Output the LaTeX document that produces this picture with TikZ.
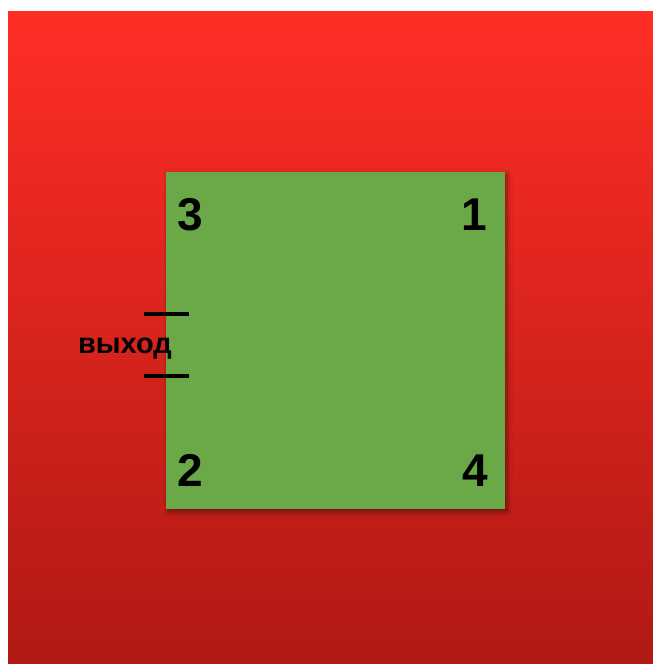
\documentclass[tikz,border=0pt]{standalone}
\usepackage{fontspec}
\setmainfont{Liberation Sans}
\usetikzlibrary{shadows.blur}
\definecolor{redtop}{HTML}{FF2E25}
\definecolor{redbot}{HTML}{B01915}
\definecolor{grass}{HTML}{6BA948}
\tikzset{
  corner/.style={font=\fontsize{46}{46}\selectfont\bfseries, text=black, inner sep=0pt},
  exitlabel/.style={font=\fontsize{29}{29}\selectfont\bfseries, text=black, inner sep=0pt},
  doorline/.style={line width=4pt, black},
}
\begin{document}
\begin{tikzpicture}[x=1pt,y=1pt]
\useasboundingbox (0,0) rectangle (653,664);
\fill[white] (0,0) rectangle (653,664);
\shade[top color=redtop, bottom color=redbot] (8,0) rectangle (653,652);
\node[fill=grass, minimum width=339pt, minimum height=337pt, inner sep=0pt,
  blur shadow={shadow xshift=2pt, shadow yshift=-3pt, shadow blur radius=5pt, shadow blur steps=8, shadow opacity=45}]
  (field) at (335.5,323.5) {};
\node[corner] (n3) at (190,449) {3};
\node[corner] (n1) at (474,449) {1};
\node[corner] (n2) at (190,194) {2};
\node[corner] (n4) at (475,193) {4};
\coordinate (a1) at (144,350);
\coordinate (a2) at (189,350);
\coordinate (b1) at (144,288);
\coordinate (b2) at (189,288);
\draw[doorline] (a1) -- (a2);
\draw[doorline] (b1) -- (b2);
\node[exitlabel] (exit) at (125,315) {выход};
\end{tikzpicture}
\end{document}
